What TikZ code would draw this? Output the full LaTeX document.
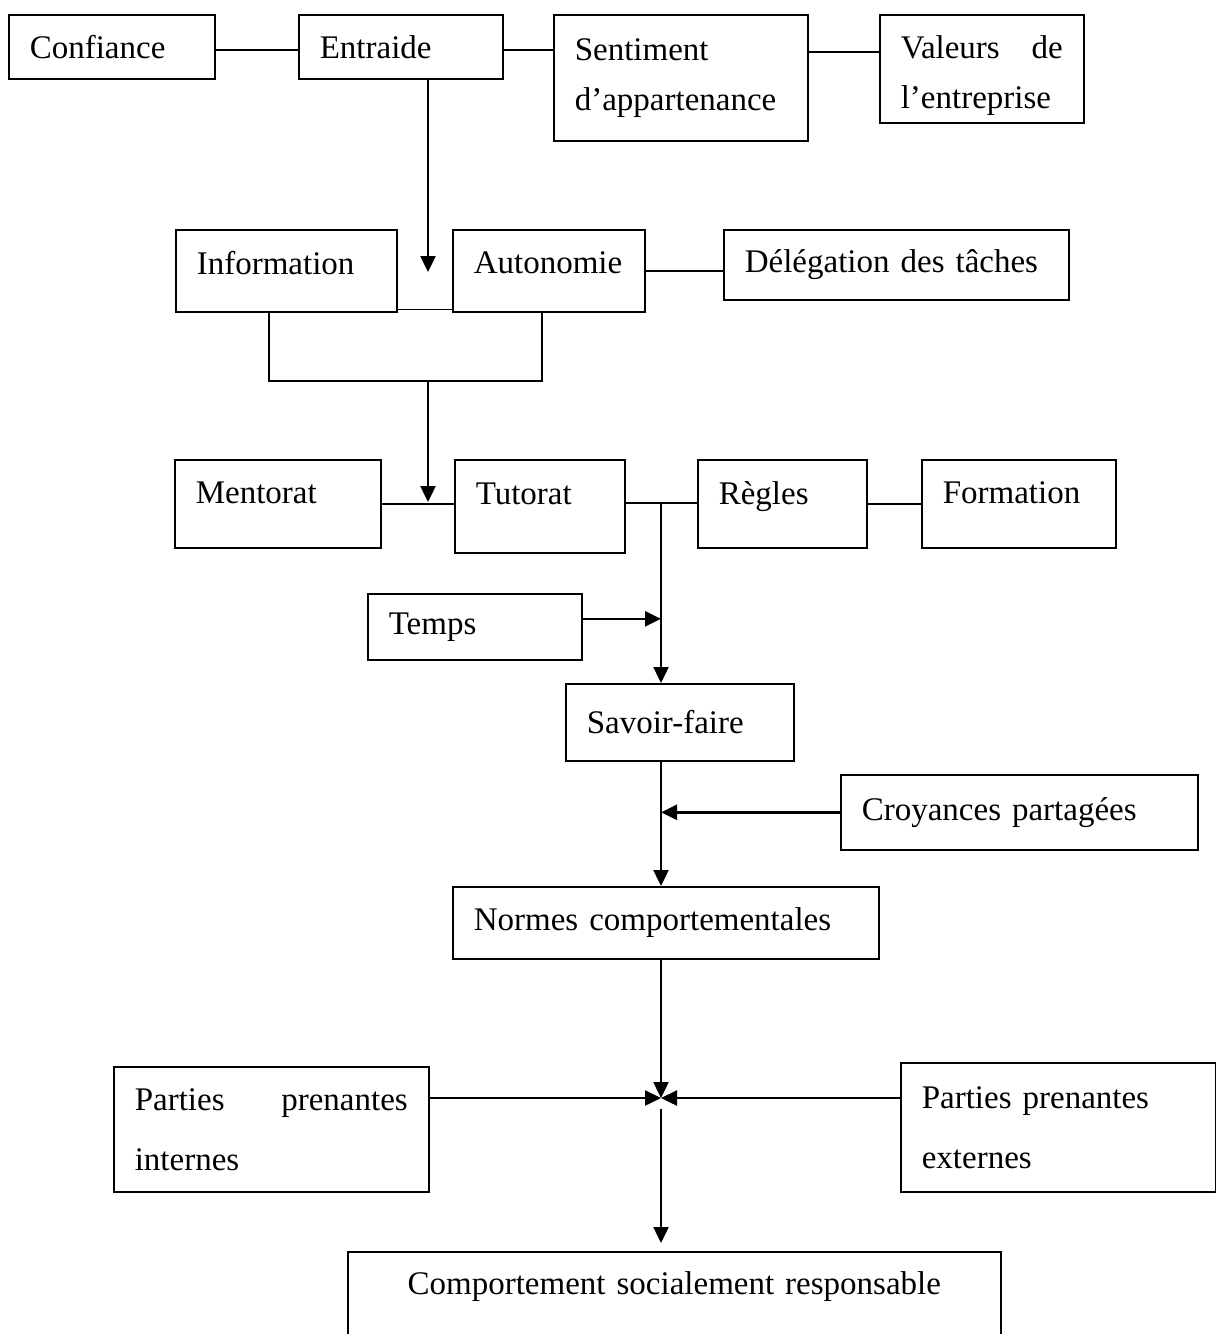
\documentclass[tikz,border=0pt]{standalone}
\usepackage{fontspec}
\setmainfont{Liberation Serif}
\usetikzlibrary{arrows.meta}
\hyphenpenalty=10000
\tolerance=10000
\tikzset{
  % A concept box: fixed width, text set from the left
  box/.style={
    draw=black, line width=0.8pt, anchor=north west, align=left,
    font=\fontsize{16.5}{25}\selectfont, inner xsep=10.5pt, inner ysep=0pt,
    text width=#1},
  % Two-line boxes of the lower part have wider line spacing
  widelines/.style={font=\fontsize{16.5}{30}\selectfont},
  % Relationships
  link/.style={draw=black, line width=0.8pt},
  flow/.style={-{Triangle[length=8pt, width=7.5pt]}, draw=black, line width=1.2pt},
}

\begin{document}
\begin{tikzpicture}[x=0.5pt, y=-0.5pt]
  \useasboundingbox (0,0) rectangle (1216,1334);

  % first row
  \node[box=82pt, minimum height=32pt] (conf) at (8,14) {Confiance};
  \node[box=81pt, minimum height=32pt] (entr) at (298,14) {Entraide};
  \node[box=106pt, minimum height=63pt] (sent) at (553,14) {Sentiment d’appartenance};
  \node[box=81pt, minimum height=54pt, text height=18pt, align=justify] (val) at (879,14) {Valeurs de l’entreprise};

  % second row
  \node[box=89.5pt, minimum height=41pt, text depth=8pt] (info) at (175,229) {Information};
  \node[box=75pt, minimum height=41pt, text depth=8pt] (auto) at (452,229) {Autonomie};
  \node[box=151.5pt, minimum height=35pt] (dele) at (723,229) {Délégation des tâches};

  % third row
  \node[box=82pt, minimum height=44pt, text depth=11pt] (ment) at (174,459) {Mentorat};
  \node[box=64pt, minimum height=46.5pt, text depth=13pt] (tuto) at (454,459) {Tutorat};
  \node[box=63.5pt, minimum height=44pt, text depth=11pt] (regl) at (697,459) {Règles};
  \node[box=76pt, minimum height=44pt, text depth=11pt] (form) at (921,459) {Formation};

  \node[box=86pt, minimum height=33pt] (temp) at (367,593) {Temps};
  \node[box=93pt, minimum height=38.5pt] (savo) at (565,683) {Savoir-faire};
  \node[box=157.5pt, minimum height=37.5pt] (croy) at (840,774) {Croyances partagées};
  \node[box=192pt, minimum height=36pt] (norm) at (452,886) {Normes comportementales};

  \node[box=136.5pt, widelines, minimum height=62.5pt, align=justify] (pint) at (113,1066) {Parties prenantes internes};
  \node[box=136.5pt, widelines, minimum height=64.5pt] (pext) at (900,1062) {Parties prenantes externes};
  \node[box=305.5pt, align=center, text height=21.5pt, text depth=40pt] (comp) at (347,1251) {Comportement socialement responsable};

  \coordinate (drop)  at (428,272);
  \coordinate (brk)   at (428,381);
  \coordinate (merge) at (428,502);
  \coordinate (split) at (661,503);
  \coordinate (hub)   at (661,1098);

  \draw[link] ([yshift=-18pt]conf.north east) -- ([yshift=-18pt]entr.north west);
  \draw[link] ([yshift=-18pt]entr.north east) -- ([yshift=-18pt]sent.north west);
  \draw[link] ([yshift=-19pt]sent.north east) -- ([yshift=-19pt]val.north west);

  \draw[flow] (entr.south -| drop) -- (drop);
  \draw[link] ([yshift=1.5pt]info.south east) -- ([yshift=1.5pt]auto.south west);
  \draw[link] (auto.east) -- (auto.east -| dele.west);
  \draw[link] ([xshift=-8.75pt]info.south) |- (brk) -| ([xshift=-3.5pt]auto.south);
  \draw[flow] (brk) -- (merge);

  \draw[link] (ment.east) -- (ment.east -| tuto.west);
  \draw[link] (tuto.east |- split) -- (regl.west |- split);
  \draw[link] (regl.east) -- (form.west);

  \draw[flow] (split) -- (split |- savo.north);
  \draw[flow] ([yshift=4pt]temp.east) -- ([yshift=4pt]temp.east -| split);
  \draw[flow] (savo.south -| split) -- (split |- norm.north);
  \draw[flow] (croy.west) -- (croy.west -| split);
  \draw[flow] (norm.south -| hub) -- (hub);
  \draw[flow] (pint.east |- hub) -- (hub);
  \draw[flow] (pext.west |- hub) -- (hub);
  \draw[flow, shorten >=4pt] ([yshift=-5.5pt]hub) -- (hub |- comp.north);

\end{tikzpicture}
\end{document}
